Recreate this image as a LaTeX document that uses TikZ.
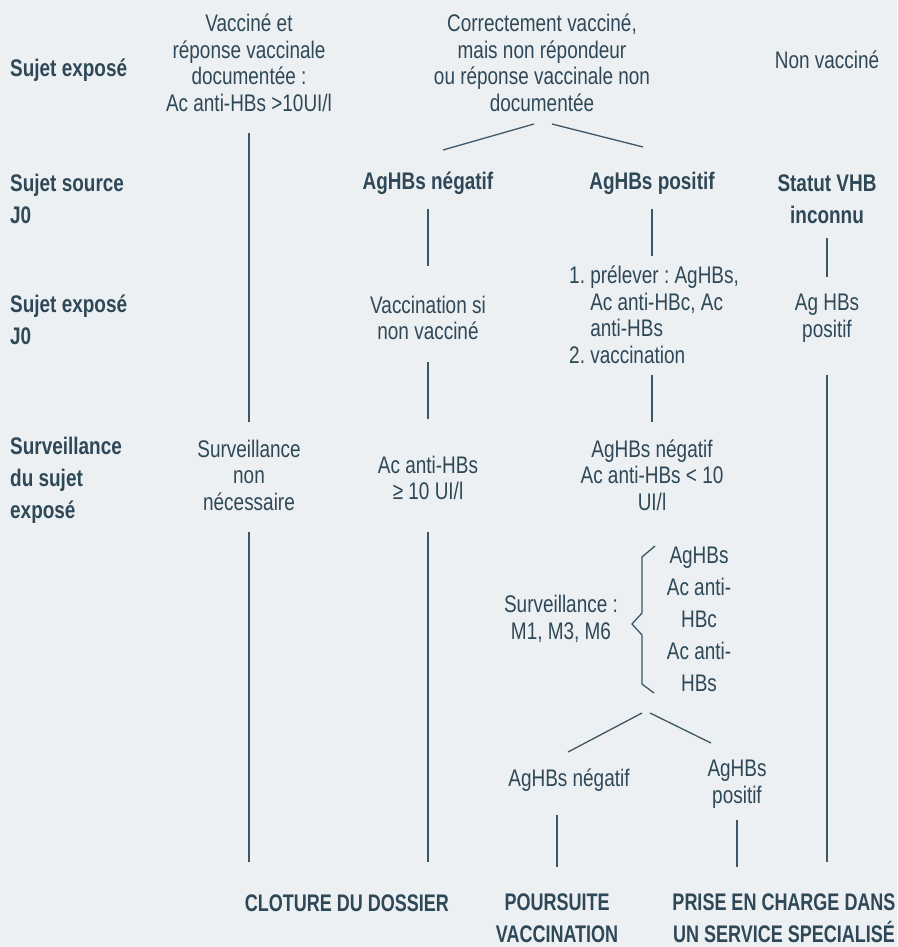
\documentclass[tikz,border=0pt]{standalone}
\usepackage{fontspec}
\setmainfont{Liberation Sans}[FakeStretch=0.79]
\newfontfamily\narrowb{Liberation Sans}[FakeStretch=0.75]
\frenchspacing
\definecolor{bgc}{HTML}{EDF0F3}
\definecolor{txc}{HTML}{2E4858}
\definecolor{lnc}{HTML}{3C5666}
\tikzset{
  txt/.style={text=txc, inner sep=0pt, align=center, font=\fontsize{24}{26.5}\selectfont},
  lab/.style={text=txc, inner sep=0pt, align=left, font=\fontsize{24}{32}\selectfont\bfseries},
  bld/.style={text=txc, inner sep=0pt, align=center, font=\fontsize{24}{32}\selectfont\bfseries},
  endb/.style={text=txc, inner sep=0pt, align=center, font=\narrowb\fontsize{24}{32}\selectfont\bfseries},
  ln/.style={draw=lnc, line width=1.3pt}
}
\begin{document}
\begin{tikzpicture}[x=1pt,y=-1pt]
\fill[bgc] (0,0) rectangle (897,947);
\useasboundingbox (0,0) rectangle (897,947);
% row labels
\node[lab, anchor=west] (lab1) at (10,70) {Sujet exposé};
\node[lab, anchor=west] (lab2) at (10,199) {Sujet source\\J0};
\node[lab, anchor=west] (lab3) at (10,320) {Sujet exposé\\J0};
\node[lab, anchor=west] (lab4) at (10,480) {Surveillance\\du sujet\\exposé};
% row 1
\node[txt] (c1a) at (249,63) {Vacciné et\\réponse vaccinale\\documentée :\\Ac anti-HBs >10UI/l};
\node[txt] (c2a) at (542,63) {Correctement vacciné,\\mais non répondeur\\ou réponse vaccinale non\\documentée};
\node[txt] (c4a) at (827,60) {Non vacciné};
% row 2
\node[bld] (c2b) at (428,183) {AgHBs négatif};
\node[bld] (c3b) at (652,183) {AgHBs positif};
\node[bld] (c4b) at (827,199) {Statut VHB\\inconnu};
% row 3
\node[txt] (c2c) at (428,318) {Vaccination si\\non vacciné};
\node[txt, anchor=west] (c3c) at (569,318) {\begin{tabular}{@{}l@{\ }l@{}}1. & prélever : AgHBs,\\ & Ac anti-HBc, Ac\\ & anti-HBs\\2. & vaccination\end{tabular}};
\node[txt] (c4c) at (827,318) {Ag HBs\\positif};
% row 4
\node[txt] (c1d) at (249,475) {Surveillance\\non\\nécessaire};
\node[txt] (c2d) at (428,478) {Ac anti-HBs\\≥ 10 UI/l};
\node[txt] (c3d) at (652,475) {AgHBs négatif\\Ac anti-HBs < 10\\UI/l};
% surveillance
\node[txt] (sv) at (561,619) {Surveillance :\\M1, M3, M6};
\node[txt, font=\fontsize{24}{32}\selectfont] (sl) at (699,619) {AgHBs\\Ac anti-\\HBc\\Ac anti-\\HBs};
\node[txt] (neg) at (569,780) {AgHBs négatif};
\node[txt] (pos) at (737,784) {AgHBs\\positif};
% endings
\node[endb] (e1) at (347,903) {CLOTURE DU DOSSIER};
\node[endb] (e2) at (557,918) {POURSUITE\\VACCINATION};
\node[endb] (e3) at (784,918) {PRISE EN CHARGE DANS\\UN SERVICE SPECIALISÉ};
% brace
\draw[ln, line join=miter] (655,546) -- (642,557) -- (642,613) -- (632,624) -- (642,635) -- (642,684) -- (654,693);
% connectors
\draw[ln] (c1a |- 0,133) -- (c1d |- 0,422);
\draw[ln] (c1d |- 0,532) -- (c1d |- 0,862);
\draw[ln] (534,124) coordinate (c2aL) -- (443,150) coordinate (c2bT);
\draw[ln] (552,124) coordinate (c2aR) -- (643,147) coordinate (c3bT);
\draw[ln] (c2b |- 0,209) -- (c2c |- 0,266);
\draw[ln] (c2c |- 0,362) -- (c2d |- 0,419);
\draw[ln] (c2d |- 0,532) -- (c2d |- 0,862);
\draw[ln] (c3b |- 0,209) -- (c3b |- 0,256);
\draw[ln] (c3d |- 0,375) -- (c3d |- 0,422);
\draw[ln] (642,713) coordinate (brL) -- (568,752) coordinate (negT);
\draw[ln] (650,713) coordinate (brR) -- (711,743) coordinate (posT);
\draw[ln] (e2 |- 0,815) -- (e2 |- 0,867);
\draw[ln] (pos |- 0,820) -- (pos |- 0,867);
\draw[ln] (c4b |- 0,238) -- (c4c |- 0,277);
\draw[ln] (c4c |- 0,375) -- (c4c |- 0,862);
\end{tikzpicture}
\end{document}
